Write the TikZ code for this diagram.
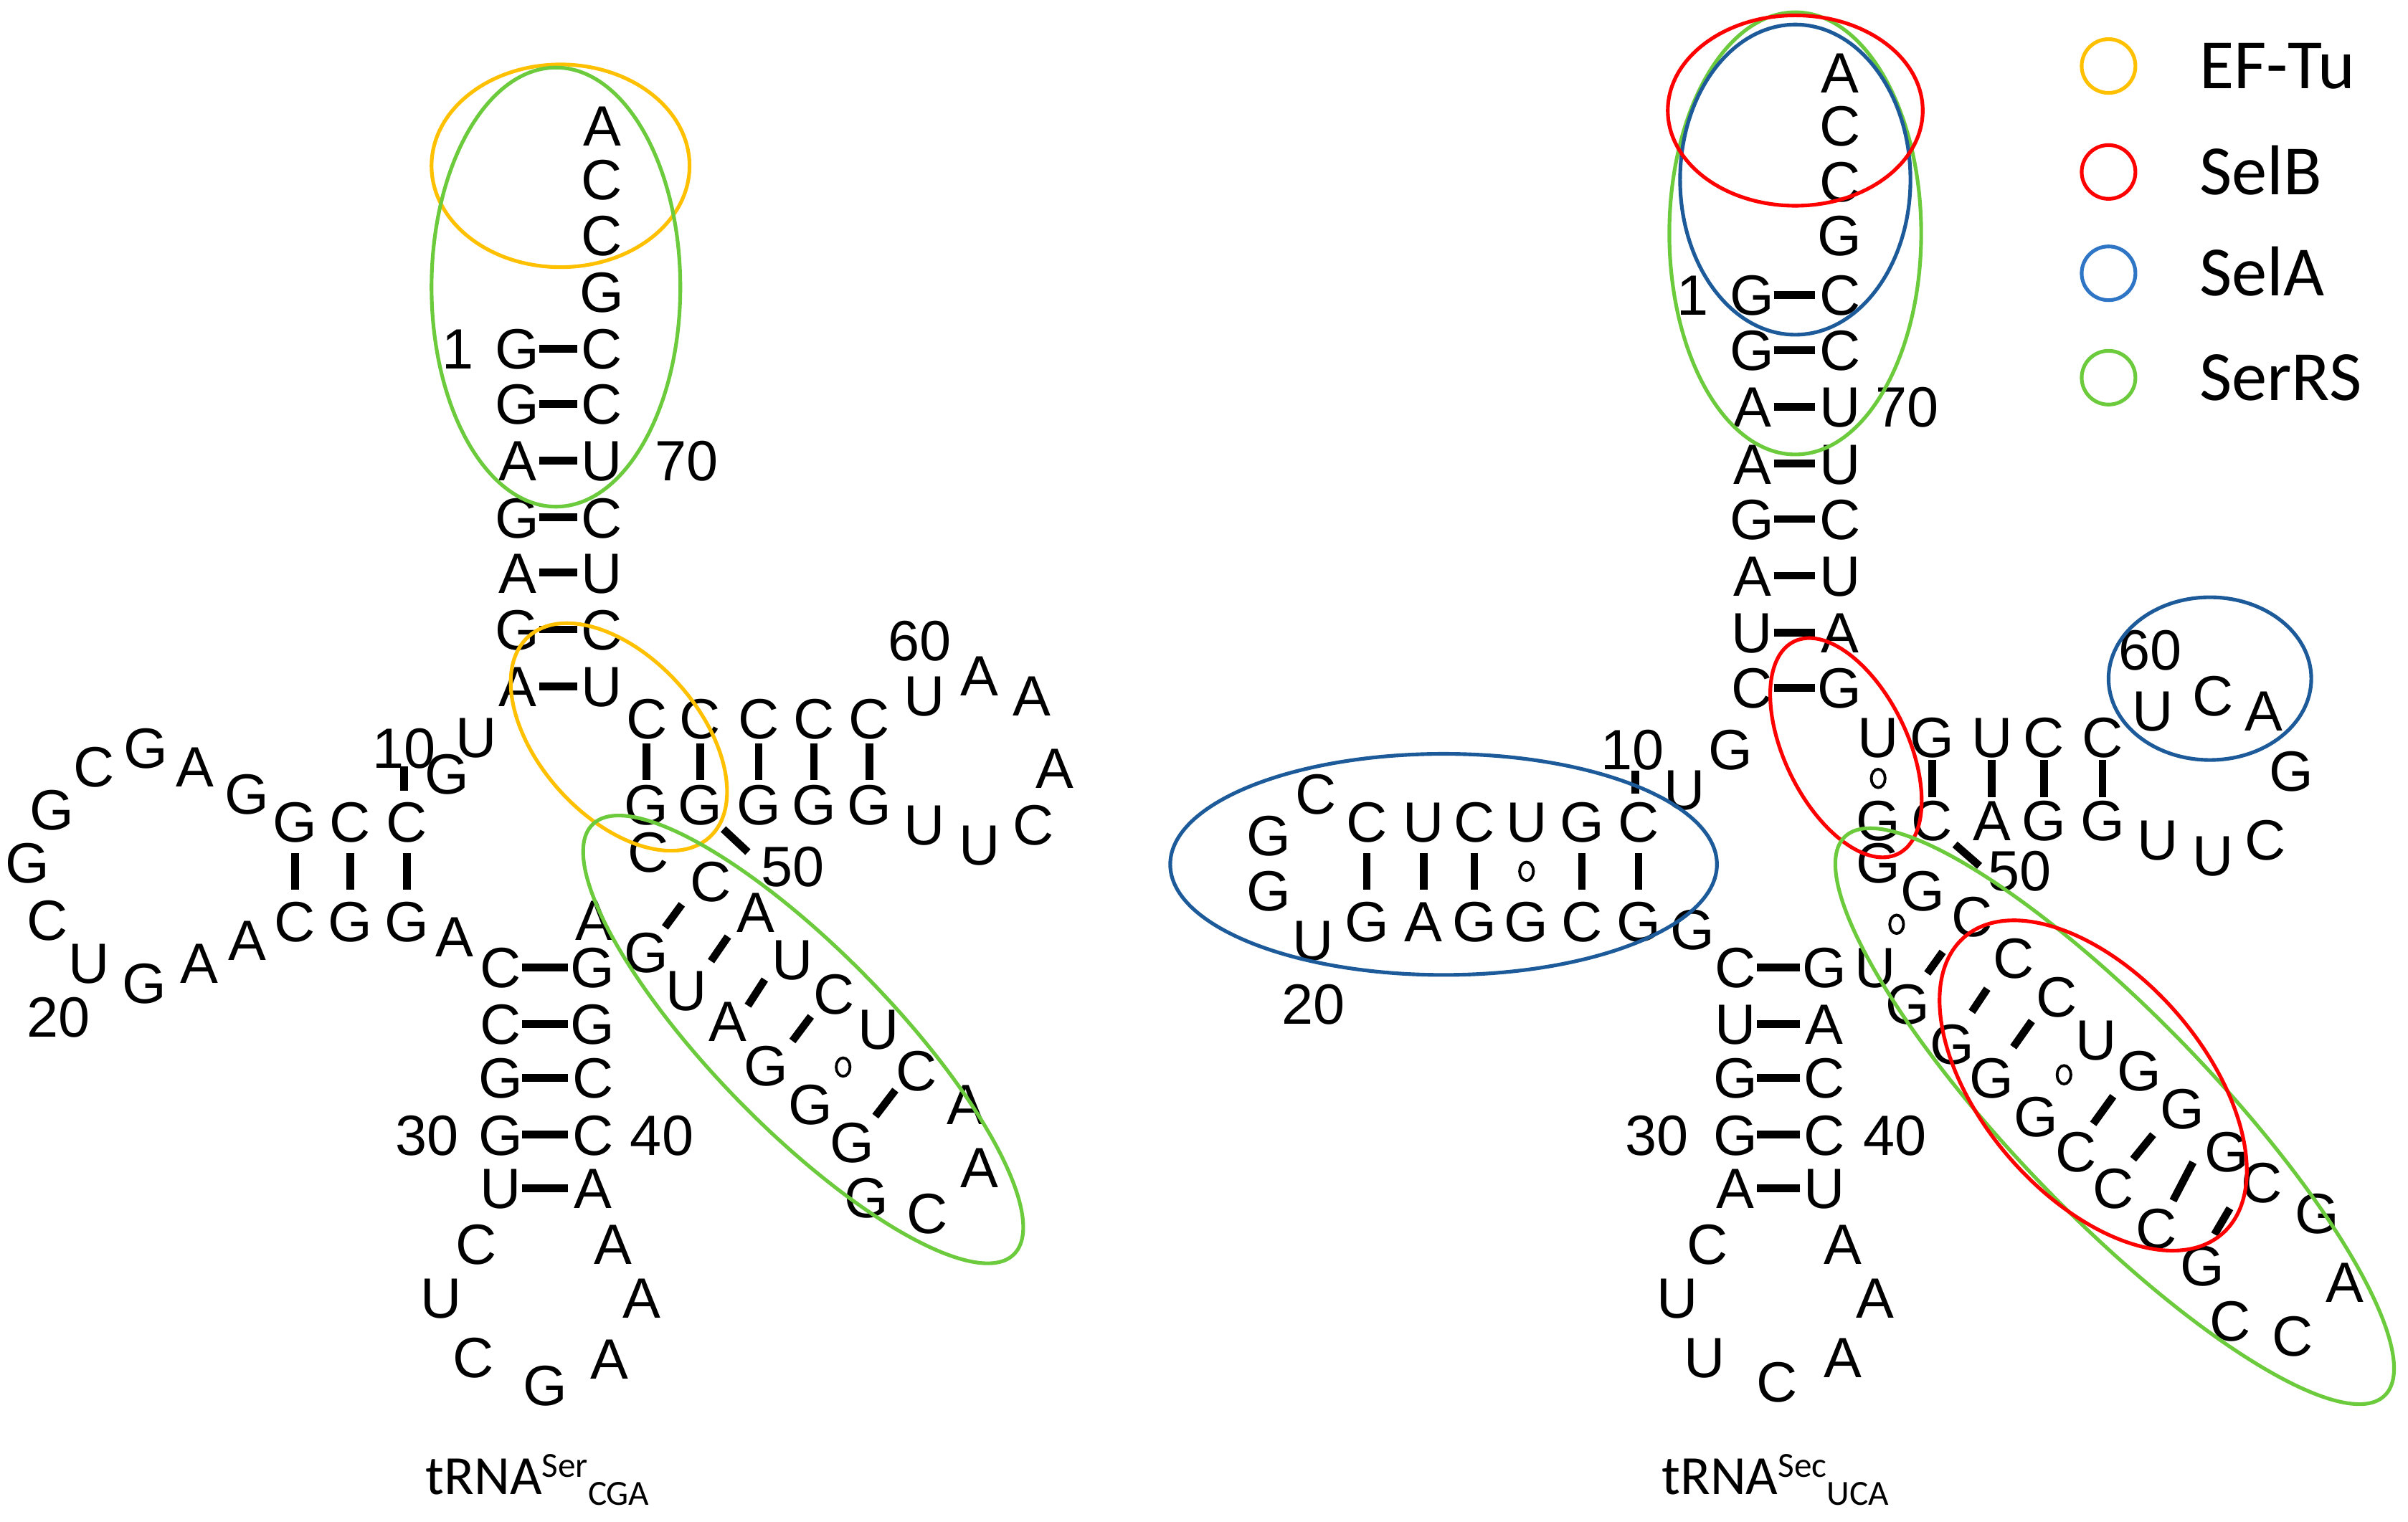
\documentclass[tikz,border=0pt]{standalone}
\usepackage{fontspec}
\setmainfont{Liberation Sans}
\newfontfamily\calfnt{Carlito}
\definecolor{cyel}{HTML}{FFC000}
\definecolor{cred}{HTML}{FF0000}
\definecolor{cblu}{HTML}{1C5A9A}
\definecolor{cblul}{HTML}{2E75C6}
\definecolor{cgrn}{HTML}{6CCB3C}
\newcounter{ntc}
\newcommand\nt[3]{\stepcounter{ntc}\node[nt] (n\arabic{ntc}) at (#1,#2) {#3};}
\newcommand\hp[5]{\nt{#1}{#3}{#4}\nt{#2}{#3}{#5}\draw[bar] (#1+14,#3) -- (#2-16,#3);}
\newcommand\vp[5]{\nt{#1}{#2}{#4}\nt{#1}{#3}{#5}\draw[bar] (#1,{(#2+#3)/2-12}) -- (#1,{(#2+#3)/2+12});}
\newcommand\vw[5]{\nt{#1}{#2}{#4}\nt{#1}{#3}{#5}\draw[wob] (#1,{(#2+#3)/2}) ellipse (4.5 and 6);}
\newcommand\db[4]{\draw[bar] (#1,#2) -- (#3,#4);}
\newcommand\wc[2]{\draw[wob] (#1,#2) ellipse (4.5 and 6);}
\newcommand\ov[6]{\draw[ell,#6,rotate around={-#5:(#1,#2)}] (#1,#2) ellipse (#3 and #4);}
\begin{document}
\begin{tikzpicture}[x=1pt,y=-1pt,
  nt/.style={inner sep=0pt,text height=26.5pt,text depth=0pt,font=\fontsize{37}{40}\selectfont},
  bar/.style={line width=5pt},
  wob/.style={line width=1.8pt},
  ell/.style={line width=2.4pt}]
\useasboundingbox (0,0) rectangle (1568,991);
% ===== left tRNA Ser =====
\nt{392}{82}{A}\nt{392}{117}{C}\nt{392}{153}{C}\nt{392}{190}{G}
\hp{337}{392}{227}{G}{C}\hp{337}{392}{263}{G}{C}\hp{337}{392}{300}{A}{U}
\hp{337}{392}{337}{G}{C}\hp{337}{392}{373}{A}{U}\hp{337}{392}{410}{G}{C}\hp{337}{392}{447}{A}{U}
\nt{298}{227}{1}\nt{447}{300}{70}
% T arm
\vp{421}{468}{524}{C}{G}\vp{456}{468}{524}{C}{G}\vp{494}{468}{524}{C}{G}
\vp{530}{468}{524}{C}{G}\vp{566}{468}{524}{C}{G}
\nt{602}{453}{U}\nt{638}{440}{A}\nt{672}{453}{A}\nt{687}{500}{A}
\nt{602}{537}{U}\nt{638}{550}{U}\nt{673}{537}{C}\nt{599}{417}{60}
\nt{516}{564}{50}\db{471}{540}{487}{555}
% D arm
\nt{263}{487}{10}\nt{310}{480}{U}\nt{291}{504}{G}\draw[bar](263,499)--(263,515);
\vp{192}{535}{600}{G}{C}\vp{228}{535}{600}{C}{G}\vp{265}{535}{600}{C}{G}
\nt{161}{517}{G}\nt{127}{499}{A}\nt{95}{487}{G}\nt{61}{499}{C}\nt{34}{527}{G}
\nt{18}{562}{G}\nt{31}{599}{C}\nt{58}{627}{U}\nt{94}{640}{G}\nt{130}{627}{A}\nt{161}{612}{A}
\nt{38}{662}{20}\nt{296}{610}{A}
% anticodon arm
\hp{326}{386}{630}{C}{G}\hp{326}{386}{667}{C}{G}\hp{326}{386}{702}{G}{C}
\hp{326}{386}{739}{G}{C}\hp{326}{386}{774}{U}{A}
\nt{278}{739}{30}\nt{431}{739}{40}
\nt{310}{810}{C}\nt{287}{845}{U}\nt{308}{884}{C}\nt{355}{902}{G}
\nt{397}{885}{A}\nt{418}{845}{A}\nt{399}{810}{A}
% variable arm
\nt{387}{599}{A}\nt{422}{555}{C}\nt{463}{574}{C}\nt{492}{594}{A}\nt{516}{625}{U}
\nt{543}{647}{C}\nt{572}{670}{U}\nt{597}{697}{C}\nt{629}{719}{A}\nt{638}{760}{A}
\nt{604}{790}{C}\nt{564}{780}{G}\nt{555}{744}{G}\nt{528}{719}{G}\nt{499}{694}{G}
\nt{474}{665}{A}\nt{447}{645}{U}\nt{421}{620}{G}
\db{444}{589}{433}{604}\db{474}{610}{463}{626}\db{498}{638}{487}{655}
\db{528}{662}{516}{678}\wc{549}{695}\db{583}{710}{570}{727}
\nt{350}{960}{\calfnt\fontsize{36}{38}\selectfont tRNA\raisebox{11pt}{\fontsize{23}{24}\selectfont Ser}\raisebox{-7pt}{\fontsize{23}{24}\selectfont CGA}}
% ellipses left
\ov{365}{108}{84}{66}{0}{cyel}
\ov{362}{187}{81}{143}{0}{cgrn}
\ov{403}{480}{88}{52}{48}{cyel}
\ov{523}{677}{196}{58}{45.6}{cgrn}
% ===== right tRNA Sec =====
\nt{1198}{47}{A}\nt{1198}{82}{C}\nt{1198}{118}{C}\nt{1198}{153}{G}
\hp{1141}{1198}{192}{G}{C}\hp{1141}{1198}{228}{G}{C}\hp{1141}{1198}{265}{A}{U}
\hp{1141}{1198}{302}{A}{U}\hp{1141}{1198}{338}{G}{C}\hp{1141}{1198}{375}{A}{U}
\hp{1141}{1198}{412}{U}{A}\hp{1141}{1198}{448}{C}{G}
\nt{1102}{192}{1}\nt{1242}{265}{70}
% T arm
\vw{1223}{480}{534}{U}{G}\vp{1258}{480}{534}{G}{C}\vp{1297}{480}{534}{U}{A}
\vp{1331}{480}{534}{C}{G}\vp{1369}{480}{534}{C}{G}
\nt{1402}{463}{U}\nt{1441}{453}{C}\nt{1474}{463}{A}\nt{1400}{423}{60}
\nt{1492}{502}{G}\nt{1405}{547}{U}\nt{1441}{557}{U}\nt{1475}{547}{C}
\nt{1315}{567}{50}\db{1273}{550}{1289}{564}
% D arm
\nt{1063}{488}{10}\nt{1127}{488}{G}\nt{1097}{514}{U}\draw[bar](1065,502)--(1065,517);
\vp{890}{535}{600}{C}{G}\vp{927}{535}{600}{U}{A}\vp{960}{535}{600}{C}{G}
\vw{994}{535}{600}{U}{G}\vp{1030}{535}{600}{G}{C}\vp{1067}{535}{600}{C}{G}
\nt{857}{517}{C}\nt{826}{544}{G}\nt{826}{580}{G}\nt{855}{612}{U}\nt{855}{654}{20}
\nt{1102}{605}{G}
% anticodon arm
\hp{1130}{1188}{630}{C}{G}\hp{1130}{1188}{667}{U}{A}\hp{1130}{1188}{702}{G}{C}
\hp{1130}{1188}{739}{G}{C}\hp{1130}{1188}{774}{A}{U}
\nt{1079}{739}{30}\nt{1234}{739}{40}
\nt{1112}{810}{C}\nt{1092}{845}{U}\nt{1110}{884}{U}\nt{1157}{900}{C}
\nt{1200}{884}{A}\nt{1221}{845}{A}\nt{1200}{810}{A}
% variable arm
\nt{1223}{562}{G}\nt{1252}{580}{G}\nt{1284}{597}{C}\wc{1235}{602}
\nt{1221}{630}{U}\nt{1242}{654}{G}\nt{1271}{680}{G}\nt{1297}{702}{G}\nt{1326}{727}{G}
\nt{1352}{750}{C}\nt{1376}{774}{C}\nt{1404}{800}{C}\nt{1434}{824}{G}\nt{1452}{860}{C}
\nt{1493}{870}{C}\nt{1527}{835}{A}\nt{1509}{790}{G}\nt{1473}{770}{C}\nt{1450}{750}{G}
\nt{1421}{722}{G}\nt{1393}{697}{G}\nt{1365}{677}{U}\nt{1339}{649}{C}\nt{1311}{624}{C}
\db{1265}{620}{1255}{634}\db{1294}{644}{1284}{659}\db{1323}{665}{1311}{682}
\wc{1344}{700}\db{1376}{714}{1363}{732}\db{1402}{739}{1389}{755}
\db{1428}{757}{1415}{782}\db{1452}{787}{1442}{804}
\nt{1156}{960}{\calfnt\fontsize{36}{38}\selectfont tRNA\raisebox{11pt}{\fontsize{23}{24}\selectfont Sec}\raisebox{-7pt}{\fontsize{23}{24}\selectfont UCA}}
% ellipses right
\ov{1169}{152}{82}{144}{0}{cgrn}
\ov{1169}{117}{75}{101}{0}{cblu}
\ov{1169}{72}{83}{62}{0}{cred}
\ov{1439}{442}{66}{53}{0}{cblu}
\ov{940}{563}{178}{72}{0}{cblu}
\ov{1202}{487}{77}{40}{64}{cred}
\ov{1377}{727}{253}{65}{46}{cgrn}
\ov{1363}{707}{128}{72}{49}{cred}
% legend
\foreach \c/\t/\yy [count=\i] in {cyel/EF-Tu/43,cred/SelB/112,cblul/SelA/178,cgrn/SerRS/246}{
  \draw[ell,\c] (1373,\yy) ellipse (17.5 and 17.5);
  \node[anchor=west,inner sep=0pt,text height=29.6pt,text depth=0pt,font=\calfnt\fontsize{46}{48}\selectfont] (lg\i) at (1432,\yy) {\t};}
\end{tikzpicture}
\end{document}
